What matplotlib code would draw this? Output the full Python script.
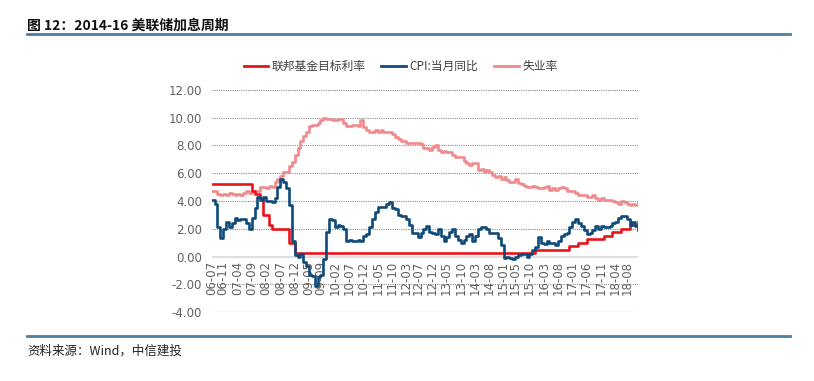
import numpy as np
import pandas as pd
import matplotlib
matplotlib.use("Agg")
import matplotlib.pyplot as plt
from matplotlib.lines import Line2D

plt.rcParams['font.family'] = ['Noto Sans CJK SC', 'DejaVu Sans']

# monthly data, 2006-07 .. 2018-12
months = pd.period_range('2006-07', '2018-12', freq='M')

fed_rate = ([5.25] * 14 + [4.75, 4.5, 4.5, 4.25, 3.0, 3.0, 2.25, 2.0, 2.0, 2.0, 2.0, 2.0, 2.0,
            1.0, 1.0, 0.25] + [0.25] * 83 + [0.5] * 12 + [0.75] * 3 + [1.0] * 3
            + [1.25] * 6 + [1.5] * 3 + [1.75] * 3 + [2.0] * 3 + [2.25] * 3 + [2.5])

cpi = [4.1, 3.8, 2.1, 1.3, 2.0, 2.5,
       2.1, 2.4, 2.8, 2.6, 2.7, 2.7, 2.4, 2.0, 2.8, 3.5, 4.3, 4.1,
       4.3, 4.0, 4.0, 3.9, 4.2, 5.0, 5.6, 5.4, 4.9, 3.7, 1.1, 0.1,
       0.0, 0.2, -0.4, -0.7, -1.3, -1.4, -2.1, -1.5, -1.3, -0.2, 1.8, 2.7,
       2.6, 2.1, 2.3, 2.2, 2.0, 1.1, 1.2, 1.1, 1.1, 1.2, 1.1, 1.5,
       1.6, 2.1, 2.7, 3.2, 3.6, 3.6, 3.6, 3.8, 3.9, 3.5, 3.4, 3.0,
       2.9, 2.9, 2.7, 2.3, 1.7, 1.7, 1.4, 1.7, 2.0, 2.2, 1.8, 1.7,
       1.6, 2.0, 1.5, 1.1, 1.4, 1.8, 2.0, 1.5, 1.2, 1.0, 1.2, 1.5,
       1.6, 1.1, 1.5, 2.0, 2.1, 2.1, 2.0, 1.7, 1.7, 1.7, 1.3, 0.8,
       -0.1, 0.0, -0.1, -0.2, 0.0, 0.1, 0.2, 0.2, 0.0, 0.2, 0.5, 0.7,
       1.4, 1.0, 0.9, 1.1, 1.0, 1.0, 0.8, 1.1, 1.5, 1.6, 1.7, 2.1,
       2.5, 2.7, 2.4, 2.2, 1.9, 1.6, 1.7, 1.9, 2.2, 2.0, 2.2, 2.1,
       2.1, 2.2, 2.4, 2.5, 2.8, 2.9, 2.9, 2.7, 2.3, 2.5, 2.2, 1.9]

unemp = [4.7, 4.7, 4.5, 4.4, 4.5, 4.4,
         4.6, 4.5, 4.4, 4.5, 4.4, 4.6, 4.7, 4.6, 4.7, 4.7, 4.7, 5.0,
         5.0, 4.9, 5.1, 5.0, 5.4, 5.6, 5.8, 6.1, 6.1, 6.5, 6.8, 7.3,
         7.8, 8.3, 8.7, 9.0, 9.4, 9.5, 9.5, 9.6, 9.8, 10.0, 9.9, 9.9,
         9.8, 9.8, 9.9, 9.9, 9.6, 9.4, 9.4, 9.5, 9.5, 9.4, 9.8, 9.3,
         9.1, 9.0, 9.0, 9.1, 9.0, 9.1, 9.0, 9.0, 9.0, 8.8, 8.6, 8.5,
         8.3, 8.3, 8.2, 8.2, 8.2, 8.2, 8.2, 8.1, 7.8, 7.8, 7.7, 7.9,
         8.0, 7.7, 7.5, 7.6, 7.5, 7.5, 7.3, 7.2, 7.2, 7.2, 6.9, 6.7,
         6.6, 6.7, 6.7, 6.2, 6.3, 6.1, 6.2, 6.1, 5.9, 5.7, 5.8, 5.6,
         5.7, 5.5, 5.4, 5.4, 5.6, 5.3, 5.2, 5.1, 5.0, 5.0, 5.1, 5.0,
         4.9, 4.9, 5.0, 5.1, 4.8, 4.9, 4.8, 4.9, 5.0, 4.9, 4.7, 4.7,
         4.7, 4.6, 4.4, 4.4, 4.4, 4.3, 4.3, 4.4, 4.2, 4.1, 4.2, 4.1,
         4.1, 4.1, 4.0, 3.9, 3.8, 4.0, 3.9, 3.8, 3.7, 3.8, 3.7, 3.9]

tick_labels = ['06-07', '06-11', '07-04', '07-09', '08-02', '08-07', '08-12', '09-05',
               '09-09', '10-02', '10-07', '10-12', '11-05', '11-10', '12-03', '12-07',
               '12-12', '13-05', '13-10', '14-03', '14-08', '15-01', '15-05', '15-10',
               '16-03', '16-08', '17-01', '17-06', '17-11', '18-04', '18-08']

labels_all = [m.strftime('%y-%m') for m in months]
x = np.arange(len(months))
tick_pos = [labels_all.index(t) for t in tick_labels]

RED = '#e8141b'
BLUE = '#0e4a7a'
PINK = '#f08a8c'
GRAY = '#606060'

fig = plt.figure(figsize=(8.14, 3.81), dpi=100)
ax = fig.add_axes([0.26, 0.181, 0.524, 0.583])

for v in [12, 10, 8, 6, 4, 2, -2, -4]:
    ax.axhline(v, color='#8c8c8c', lw=0.8, ls=(0, (1, 1)), zorder=1)
ax.axhline(0, color='#d9d9d9', lw=1.2, zorder=1)

ax.plot(x, unemp, color=PINK, lw=1.9, drawstyle='steps-post', zorder=2)
ax.plot(x, fed_rate, color=RED, lw=1.9, drawstyle='steps-post', zorder=3)
ax.plot(x, cpi, color=BLUE, lw=1.9, drawstyle='steps-post', zorder=4)

ax.set_xlim(0, len(months) - 1)
ax.set_ylim(-4, 12)
yt = [12, 10, 8, 6, 4, 2, 0, -2, -4]
ax.set_yticks(yt)
ax.set_yticklabels(['%.2f' % v for v in yt])
ax.set_xticks(tick_pos)
ax.set_xticklabels(tick_labels)

for s in ['top', 'right', 'left']:
    ax.spines[s].set_visible(False)
ax.spines['bottom'].set_position(('data', 0))
ax.spines['bottom'].set_visible(False)
ax.tick_params(axis='both', length=0, colors=GRAY, labelsize=8.5)
ax.tick_params(axis='x', pad=3, labelrotation=90)
ax.tick_params(axis='y', pad=7)
for lab in ax.get_xticklabels() + ax.get_yticklabels():
    lab.set_family(['DejaVu Sans'])
    lab.set_color(GRAY)

handles = [Line2D([], [], color=RED, lw=2),
           Line2D([], [], color=BLUE, lw=2),
           Line2D([], [], color=PINK, lw=2)]
fig.legend(handles, ['联邦基金目标利率', 'CPI:当月同比', '失业率'], loc='center',
           bbox_to_anchor=(0.492, 0.825), ncol=3, frameon=False, fontsize=8.5,
           handlelength=2.1, handletextpad=0.3, columnspacing=1.3, labelcolor='#404040')

# title, rules and source
fig.text(27 / 814, 1 - 26 / 381, '图 12：2014-16 美联储加息周期', fontsize=10,
         fontweight='bold', va='center', ha='left', color='#111111')
fig.add_artist(Line2D([27 / 814, 790 / 814], [1 - 34 / 381] * 2, color='#4a7ea6', lw=2))
fig.add_artist(Line2D([27 / 814, 790 / 814], [1 - 336 / 381] * 2, color='#4a7ea6', lw=2))
fig.text(27 / 814, 1 - 351 / 381, '资料来源：Wind，中信建投', fontsize=9, style='italic',
         va='center', ha='left', color='#222222')

fig.savefig('out.png', dpi=100)
